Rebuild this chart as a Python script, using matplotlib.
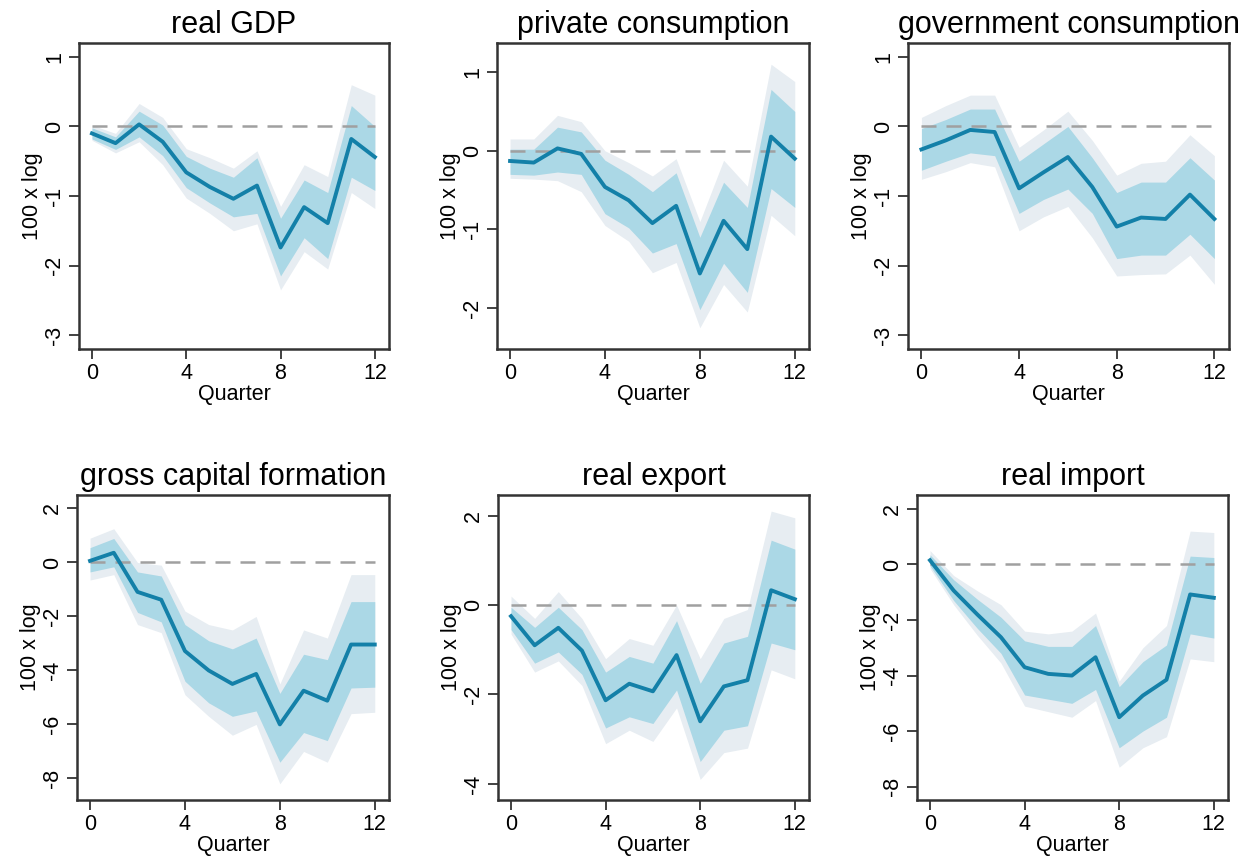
import numpy as np
import matplotlib.pyplot as plt

quarters = np.arange(13)

titles = ['real GDP', 'private consumption', 'government consumption',
          'gross capital formation', 'real export', 'real import']

# point estimates
gdp = [-0.10, -0.24, 0.03, -0.22, -0.66, -0.87, -1.04, -0.85, -1.74, -1.16, -1.39, -0.18, -0.44]
cons = [-0.13, -0.15, 0.03, -0.04, -0.46, -0.63, -0.92, -0.70, -1.56, -0.89, -1.25, 0.18, -0.10]
gov = [-0.33, -0.20, -0.05, -0.08, -0.89, -0.66, -0.44, -0.87, -1.44, -1.31, -1.33, -0.98, -1.33]
gcf = [0.06, 0.36, -1.09, -1.38, -3.28, -4.00, -4.50, -4.13, -6.00, -4.75, -5.12, -3.04, -3.04]
exp_ = [-0.25, -0.90, -0.51, -1.02, -2.13, -1.76, -1.93, -1.12, -2.60, -1.82, -1.68, 0.33, 0.13]
imp = [0.15, -0.94, -1.80, -2.62, -3.70, -3.94, -4.00, -3.34, -5.50, -4.72, -4.15, -1.08, -1.20]

# inner band (lower, upper)
gdp_lo68 = [-0.18, -0.33, -0.15, -0.42, -0.88, -1.10, -1.30, -1.25, -2.15, -1.60, -1.90, -0.73, -0.92]
gdp_hi68 = [-0.02, -0.15, 0.22, 0.02, -0.43, -0.60, -0.73, -0.45, -1.32, -0.77, -0.95, 0.30, 0.00]
cons_lo68 = [-0.30, -0.31, -0.27, -0.30, -0.80, -0.98, -1.30, -1.18, -2.02, -1.43, -1.80, -0.48, -0.72]
cons_hi68 = [0.02, 0.02, 0.30, 0.24, -0.12, -0.30, -0.52, -0.28, -1.10, -0.40, -0.72, 0.78, 0.50]
gov_lo68 = [-0.63, -0.50, -0.38, -0.42, -1.25, -1.05, -0.90, -1.25, -1.90, -1.85, -1.85, -1.55, -1.90]
gov_hi68 = [-0.03, 0.10, 0.25, 0.25, -0.50, -0.25, 0.00, -0.45, -0.95, -0.80, -0.80, -0.45, -0.77]
gcf_lo68 = [-0.35, -0.16, -1.85, -2.20, -4.40, -5.20, -5.70, -5.50, -7.40, -6.30, -6.60, -4.65, -4.62]
gcf_hi68 = [0.55, 0.89, -0.35, -0.50, -2.30, -2.90, -3.20, -2.80, -4.85, -3.40, -3.60, -1.45, -1.45]
exp_lo68 = [-0.55, -1.30, -1.05, -1.55, -2.75, -2.50, -2.65, -1.90, -3.50, -2.80, -2.70, -0.85, -1.00]
exp_hi68 = [-0.05, -0.50, -0.05, -0.55, -1.50, -1.15, -1.30, -0.35, -1.75, -0.85, -0.70, 1.45, 1.25]
imp_lo68 = [-0.05, -1.30, -2.30, -3.20, -4.70, -4.85, -5.00, -4.50, -6.60, -6.00, -5.50, -2.50, -2.65]
imp_hi68 = [0.35, -0.55, -1.25, -1.90, -2.75, -2.95, -2.95, -2.20, -4.40, -3.50, -2.90, 0.30, 0.25]

# outer band (lower, upper)
gdp_lo90 = [-0.20, -0.38, -0.22, -0.55, -1.03, -1.25, -1.50, -1.40, -2.35, -1.80, -2.05, -0.95, -1.18]
gdp_hi90 = [0.02, -0.10, 0.33, 0.13, -0.32, -0.45, -0.60, -0.35, -1.15, -0.55, -0.72, 0.60, 0.45]
cons_lo90 = [-0.35, -0.36, -0.38, -0.52, -0.95, -1.15, -1.55, -1.42, -2.25, -1.70, -2.05, -0.82, -1.08]
cons_hi90 = [0.15, 0.15, 0.45, 0.37, 0.00, -0.15, -0.32, -0.10, -0.90, -0.12, -0.45, 1.10, 0.88]
gov_lo90 = [-0.76, -0.65, -0.52, -0.58, -1.50, -1.30, -1.15, -1.60, -2.15, -2.13, -2.12, -1.85, -2.27]
gov_hi90 = [0.13, 0.30, 0.45, 0.45, -0.30, -0.05, 0.22, -0.20, -0.70, -0.53, -0.50, -0.12, -0.42]
gcf_lo90 = [-0.65, -0.45, -2.30, -2.60, -4.90, -5.70, -6.40, -6.00, -8.20, -7.00, -7.40, -5.60, -5.55]
gcf_hi90 = [0.90, 1.25, 0.00, -0.10, -1.80, -2.30, -2.50, -2.00, -4.50, -2.50, -2.80, -0.45, -0.45]
exp_lo90 = [-0.65, -1.50, -1.25, -1.80, -3.10, -2.80, -3.05, -2.30, -3.90, -3.30, -3.20, -1.45, -1.65]
exp_hi90 = [0.20, -0.30, 0.30, -0.30, -1.20, -0.75, -0.90, 0.00, -1.20, -0.30, -0.10, 2.10, 1.95]
imp_lo90 = [-0.15, -1.45, -2.55, -3.55, -5.10, -5.30, -5.50, -4.90, -7.30, -6.60, -6.20, -3.40, -3.50]
imp_hi90 = [0.50, -0.40, -0.95, -1.45, -2.40, -2.50, -2.40, -1.75, -4.20, -3.00, -2.20, 1.20, 1.15]

series = [gdp, cons, gov, gcf, exp_, imp]
lo68 = [gdp_lo68, cons_lo68, gov_lo68, gcf_lo68, exp_lo68, imp_lo68]
hi68 = [gdp_hi68, cons_hi68, gov_hi68, gcf_hi68, exp_hi68, imp_hi68]
lo90 = [gdp_lo90, cons_lo90, gov_lo90, gcf_lo90, exp_lo90, imp_lo90]
hi90 = [gdp_hi90, cons_hi90, gov_hi90, gcf_hi90, exp_hi90, imp_hi90]

yticks = [[-3, -2, -1, 0, 1], [-2, -1, 0, 1], [-3, -2, -1, 0, 1],
          [-8, -6, -4, -2, 0, 2], [-4, -2, 0, 2], [-8, -6, -4, -2, 0, 2]]
ylims = [(-3.2, 1.2), (-2.52, 1.37), (-3.2, 1.2),
         (-8.8, 2.5), (-4.36, 2.46), (-8.48, 2.5)]

# axes boxes in pixels: left, right, top, bottom
boxes = [(79, 389, 43, 349), (497, 809, 43, 349), (908, 1229, 43, 349),
         (77, 389, 495, 800), (498, 809, 495, 800), (917, 1228, 495, 800)]

plt.rcParams['font.family'] = ['Liberation Sans', 'DejaVu Sans']
W, H = 1246, 860
fig = plt.figure(figsize=(W / 100, H / 100), dpi=100)

line_col = '#1380a8'
inner_col = '#abd8e6'
outer_col = '#e7edf2'

for i in range(6):
    l, r, t, b = boxes[i]
    ax = fig.add_axes([l / W, 1 - b / H, (r - l) / W, (b - t) / H])
    ax.fill_between(quarters, lo90[i], hi90[i], color=outer_col, lw=0)
    ax.fill_between(quarters, lo68[i], hi68[i], color=inner_col, lw=0)
    ax.plot([0, 12], [0, 0], color='#a0a0a0', lw=1.8, dashes=(6, 4))
    ax.plot(quarters, series[i], color=line_col, lw=2.8)
    ax.set_xlim(-0.55, 12.6)
    ax.set_ylim(*ylims[i])
    ax.set_xticks([0, 4, 8, 12])
    ax.set_yticks(yticks[i])
    ax.set_yticklabels([str(v) for v in yticks[i]], rotation=90, va='center')
    ax.tick_params(labelsize=15.5, length=7, width=1.3, color='#333333')
    ax.tick_params(axis='y', pad=3)
    ax.tick_params(axis='x', pad=3)
    for s in ax.spines.values():
        s.set_linewidth(1.8)
        s.set_color('#333333')
    ax.set_xlabel('Quarter', fontsize=15.5, labelpad=0)
    ax.set_ylabel('100 x log', fontsize=15.5, labelpad=1)
    ax.set_title(titles[i], fontsize=22, pad=7)

plt.savefig('out.png', dpi=100)
